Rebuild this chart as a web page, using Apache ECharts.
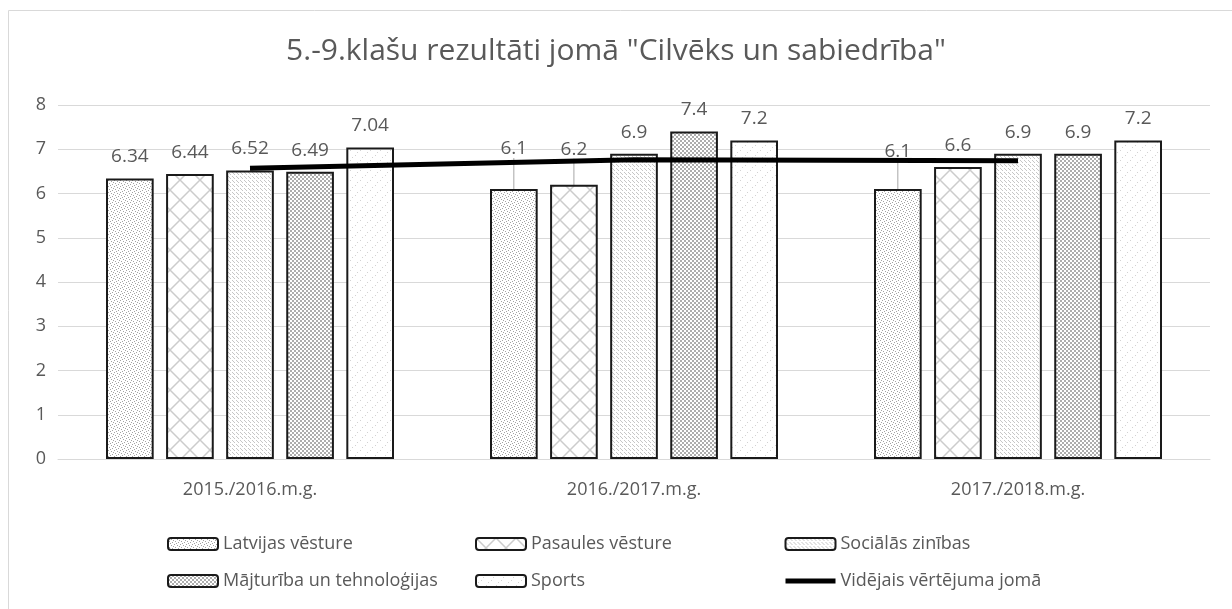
<!DOCTYPE html>
<html>
<head>
<meta charset="utf-8">
<script src="https://cdn.jsdelivr.net/npm/echarts@6/dist/echarts.min.js"></script>
<style>
  html, body { margin: 0; padding: 0; background: #fff; }
  #chart { width: 1232px; height: 609px; }
</style>
</head>
<body>
<div id="chart"></div>
<script>
// dati
const categories = ['2015./2016.m.g.', '2016./2017.m.g.', '2017./2018.m.g.'];
const latvijasVesture = [6.34, 6.1, 6.1];
const pasaulesVesture = [6.44, 6.2, 6.6];
const socialasZinibas = [6.52, 6.9, 6.9];
const majturiba = [6.49, 7.4, 6.9];
const sports = [7.04, 7.2, 7.2];
const videjais = [6.57, 6.76, 6.74];
const yTicks = [0, 1, 2, 3, 4, 5, 6, 7, 8];

// etiķetes, kuras Excel pacēla augstāk ar līniju
const liftedLabels = [
  { series: 0, index: 1, dy: -19 },
  { series: 1, index: 1, dy: -14 },
  { series: 0, index: 2, dy: -16 }
];

const grey = '#595959';

// raksti stabiņiem
function pattern (size, draw) {
  const c = document.createElement('canvas');
  c.width = c.height = size;
  const ctx = c.getContext('2d');
  ctx.fillStyle = '#fff';
  ctx.fillRect(0, 0, size, size);
  draw(ctx);
  return { image: c, repeat: 'repeat' };
}
function dots (pts, color) {
  return function (ctx) {
    ctx.fillStyle = color;
    pts.forEach(function (p) { ctx.fillRect(p[0], p[1], 1, 1); });
  };
}

const patterns = [
  pattern(6, dots([[0, 0], [3, 1], [1, 3], [4, 4], [5, 2], [2, 5]], '#a3a3a3')),
  pattern(20, function (ctx) {
    ctx.strokeStyle = '#cccccc';
    ctx.lineWidth = 1.5;
    ctx.beginPath();
    ctx.moveTo(0, 0); ctx.lineTo(20, 20);
    ctx.moveTo(20, 0); ctx.lineTo(0, 20);
    ctx.stroke();
  }),
  pattern(4, dots([[0, 0], [2, 2], [1, 1]], '#c6c6c6')),
  pattern(4, function (ctx) {
    ctx.fillStyle = '#adadad';
    ctx.fillRect(0, 0, 2, 2);
    ctx.fillRect(2, 2, 2, 2);
  }),
  pattern(10, dots([[0, 0], [5, 5], [2, 7], [7, 2]], '#d2d2d2'))
];

const barNames = ['Latvijas vēsture', 'Pasaules vēsture', 'Sociālās zinības', 'Mājturība un tehnoloģijas', 'Sports'];
const barValues = [latvijasVesture, pasaulesVesture, socialasZinibas, majturiba, sports];
const lineName = 'Vidējais vērtējuma jomā';

function isLifted (s, j) {
  return liftedLabels.find(function (l) { return l.series === s && l.index === j; });
}

const barSeries = barNames.map(function (name, i) {
  return {
    name: name,
    type: 'bar',
    data: barValues[i].map(function (v, j) {
      return isLifted(i, j) ? { value: v, labelLine: { show: true } } : v;
    }),
    barGap: '26%',
    barCategoryGap: '25%',
    itemStyle: { color: patterns[i], borderColor: '#1a1a1a', borderWidth: 2 },
    label: {
      show: true,
      position: 'top',
      distance: 12,
      color: grey,
      fontSize: 19,
      fontFamily: 'Open Sans'
    },
    labelLine: { show: false, lineStyle: { color: '#a6a6a6', width: 1 } },
    labelLayout: function (p) {
      const hit = isLifted(i, p.dataIndex);
      return hit ? { dy: hit.dy } : {};
    }
  };
});

const chart = echarts.init(document.getElementById('chart'));
chart.setOption({
  animation: false,
  textStyle: { fontFamily: 'Open Sans' },
  title: {
    text: '5.-9.klašu rezultāti jomā "Cilvēks un sabiedrība"',
    left: 'center',
    top: 31,
    textStyle: { color: grey, fontSize: 30, fontWeight: 'normal', fontFamily: 'Open Sans' }
  },
  graphic: [{
    type: 'rect',
    shape: { x: 8.5, y: 10.5, width: 1240, height: 640 },
    style: { fill: 'none', stroke: '#d9d9d9', lineWidth: 1 },
    silent: true,
    z: -10
  }],
  grid: { left: 58, right: 22, top: 105, bottom: 150 },
  legend: [
    { data: [barNames[0], barNames[3]], left: 162 },
    { data: [barNames[1], barNames[4]], left: 470 },
    { data: [barNames[2], { name: lineName, itemStyle: { opacity: 0 }, lineStyle: { width: 5 } }], left: 778 }
  ].map(function (l) {
    return Object.assign({
      top: 530,
      orient: 'vertical',
      itemGap: 19,
      itemWidth: 50,
      itemHeight: 12,
      textStyle: { color: grey, fontSize: 18, fontFamily: 'Open Sans' }
    }, l);
  }),
  xAxis: {
    type: 'category',
    data: categories,
    axisLine: { lineStyle: { color: '#d9d9d9', width: 1 } },
    axisTick: { show: false },
    axisLabel: { color: grey, fontSize: 18, margin: 22 }
  },
  yAxis: {
    type: 'value',
    min: yTicks[0],
    max: yTicks[yTicks.length - 1],
    interval: 1,
    axisLine: { show: false },
    axisTick: { show: false },
    axisLabel: { color: grey, fontSize: 18, margin: 12 },
    splitLine: { lineStyle: { color: '#d9d9d9', width: 1 } }
  },
  series: barSeries.concat([{
    name: lineName,
    type: 'line',
    data: videjais,
    symbol: 'none',
    z: 5,
    lineStyle: { color: '#000', width: 5 },
    itemStyle: { color: '#000' }
  }])
});
</script>
</body>
</html>
